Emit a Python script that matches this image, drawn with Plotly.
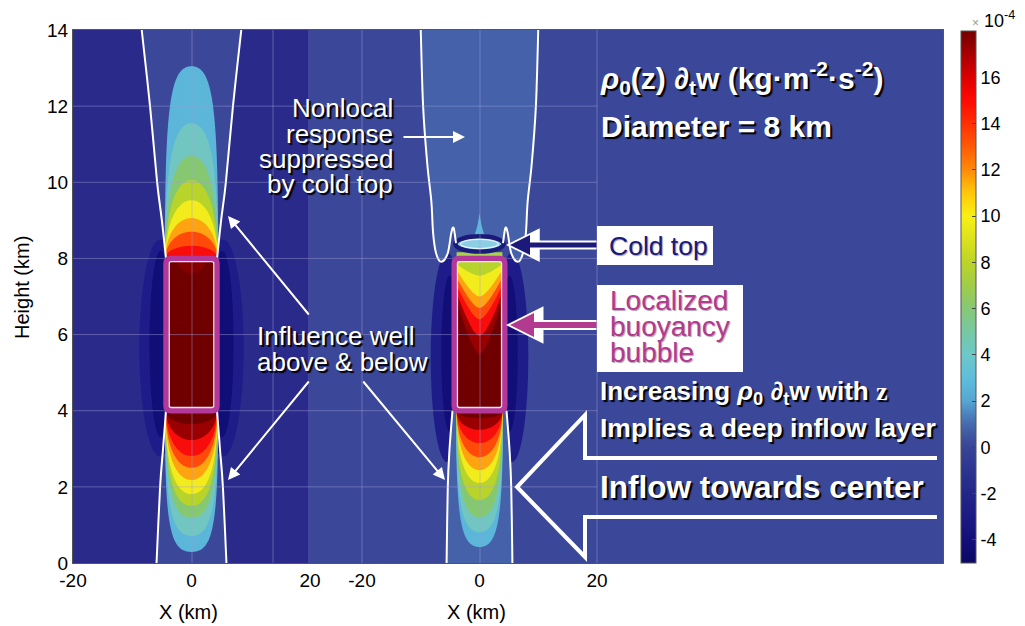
import plotly.graph_objects as go

W, H = 1025, 626
FONT = "Liberation Sans, Arial, Helvetica, sans-serif"

# ---------------- data ----------------
CBAR_MIN, CBAR_MAX = -5, 18
CBAR_TICKS = [-4, -2, 0, 2, 4, 6, 8, 10, 12, 14, 16]
CMAP_VALUES = [-5, -4, -3, -2, -1, 0, 0.5, 1, 1.5, 2, 3, 4, 5, 6, 7, 8, 9, 10, 11, 12, 13, 14, 15, 16, 17, 18]
CMAP_COLORS = ['#0b0866', '#130f78', '#1b1a84', '#232689', '#2c3490', '#394596', '#3f559f',
               '#476aae', '#4e86c0', '#56a6d2', '#5ebedc', '#6cc8c8', '#78c8a4', '#86c876',
               '#a0cc48', '#bcd428', '#dce21c', '#f8f014', '#ffc80a', '#ff8a08', '#ff5a06',
               '#ff3004', '#ff0a02', '#dc0000', '#a80000', '#740000']
X_TICKS = [-20, 0, 20]
Y_TICKS = [0, 2, 4, 6, 8, 10, 12, 14]
X_RANGE = [-20, 20]
Y_RANGE = [0, 14]

# fill colours of the contour bands, weakest (2..4) to strongest (>18)
BAND_COLORS = ['#5bb6da', '#72c6c2', '#86c872', '#b8d42a', '#f2ec1c', '#ffa410',
               '#ff4a0a', '#f80c0c', '#9a0000', '#700000']

BOX_X = [-4.3, 4.3]
BOX_Y = [4.0, 8.0]

# left panel (no cold top)
L_TIP_ABOVE = [13.05, 11.55, 10.7, 10.06, 9.53, 9.06, 8.7, 8.33]
L_HALFW_ABOVE = [4.5, 4.45, 4.4, 4.4, 4.4, 4.4, 4.4, 4.4]
L_K_ABOVE = [0.8, 0.7, 0.64, 0.6, 0.58, 0.56, 0.56, 0.56]
L_BUMP_IN_BOX = [7.62, 2.4]
L_TIP_BELOW = [0.29, 0.71, 1.18, 1.5, 1.81, 2.18, 2.5, 2.81, 3.23, 3.65]
L_HALFW_BELOW = [4.5, 4.45, 4.4, 4.4, 4.4, 4.4, 4.35, 4.3, 4.3, 4.3]
L_K_BELOW = [0.82, 0.76, 0.72, 0.68, 0.65, 0.62, 0.6, 0.58, 0.56, 0.56]
L_ZERO_UP_Y = [8, 9, 10, 12, 14]
L_ZERO_UP_X = [4.3, 5.0, 5.8, 7.0, 8.4]
L_ZERO_LO_Y = [4, 3, 2, 0]
L_ZERO_LO_X = [4.3, 4.8, 5.3, 5.9]
L_LOBE_OUTER = [5.3, 5.65, 3.5, 2.85]
L_LOBE_INNER = [5.2, 5.75, 1.9, 2.45]

# right panel (with cold top)
R_TIP_BELOW = [0.42, 0.81, 1.2, 1.65, 2.1, 2.44, 2.78, 3.15, 3.5, 3.8]
R_HALFW_BELOW = [4.0, 4.0, 3.95, 3.95, 3.9, 3.9, 3.9, 3.9, 3.9, 3.9]
R_K_BELOW = [0.8, 0.76, 0.7, 0.66, 0.62, 0.6, 0.58, 0.56, 0.56, 0.56]
R_BOX_WALL_Y = [6.9, 7.1, 7.3, 7.5, 7.7, 7.85]
R_BOX_TIP_Y = [5.5, 5.96, 6.4, 6.7, 7.0, 7.55]
R_BOX_BANDS = [8, 7, 6, 5, 4, 3]
R_UP_X = [-10.0, -9.6, -8.9, -8.2, -7.9, -7.4, -6.5, -5.4, -4.8, -4.4, -4.0]
R_UP_Y = [14, 12, 10.5, 9.5, 8.67, 8.14, 7.91, 8.14, 8.67, 8.8, 8.4]
R_ZERO_LO_Y = [4, 3, 2, 0]
R_ZERO_LO_X = [4.6, 5.1, 5.4, 5.6]
R_LOBE_OUTER = [5.5, 5.4, 2.8, 2.75]
R_LOBE_INNER = [5.1, 5.5, 1.4, 2.05]
COLD_TOP = [0.0, 8.38, 4.1, 0.2]
SPIKE = [8.45, 1.7, 9.2]

# ---------------- colours ----------------
LEFT_BG = '#2a2a8a'
NEUTRAL_BG = '#3b4798'
NONLOCAL_BG = '#4561a9'
LOBE_OUT = '#1e1c88'
LOBE_IN = '#110e78'
MAGENTA = '#b4379a'
NAVY = '#1c1a78'
GRID = 'rgba(160,160,215,0.45)'


def fx(p):
    return p / W


def fy(p):
    return 1 - p / H


def segs(pts):
    s = ''
    n = len(pts)
    for i in range(n - 1):
        p0 = pts[i - 1] if i > 0 else pts[i]
        p1, p2 = pts[i], pts[i + 1]
        p3 = pts[i + 2] if i + 2 < n else pts[i + 1]
        c1 = (p1[0] + (p2[0] - p0[0]) / 6, p1[1] + (p2[1] - p0[1]) / 6)
        c2 = (p2[0] - (p3[0] - p1[0]) / 6, p2[1] - (p3[1] - p1[1]) / 6)
        s += f' C {c1[0]:.3f},{c1[1]:.3f} {c2[0]:.3f},{c2[1]:.3f} {p2[0]:.3f},{p2[1]:.3f}'
    return s


def bullet(xc, yb, w, h, k):
    return (f'M {xc - w},{yb} C {xc - w},{yb + k * h} {xc - k * w},{yb + h} {xc},{yb + h} '
            f'C {xc + k * w},{yb + h} {xc + w},{yb + k * h} {xc + w},{yb} Z')


def ellipse(xc, yc, a, b):
    k = 0.5523
    return (f'M {xc - a},{yc} C {xc - a},{yc + k * b} {xc - k * a},{yc + b} {xc},{yc + b} '
            f'C {xc + k * a},{yc + b} {xc + a},{yc + k * b} {xc + a},{yc} '
            f'C {xc + a},{yc - k * b} {xc + k * a},{yc - b} {xc},{yc - b} '
            f'C {xc - k * a},{yc - b} {xc - a},{yc - k * b} {xc - a},{yc} Z')


def rrect(x0, x1, y0, y1, rx, ry):
    return (f'M {x0 + rx},{y0} L {x1 - rx},{y0} Q {x1},{y0} {x1},{y0 + ry} '
            f'L {x1},{y1 - ry} Q {x1},{y1} {x1 - rx},{y1} L {x0 + rx},{y1} '
            f'Q {x0},{y1} {x0},{y1 - ry} L {x0},{y0 + ry} Q {x0},{y0} {x0 + rx},{y0} Z')


fig = go.Figure()


def shp(path, xr, yr, fill=None, lc=None, lw=0):
    fig.add_shape(type='path', path=path, xref=xr, yref=yr, layer='above',
                  fillcolor=fill if fill else 'rgba(0,0,0,0)',
                  line=dict(color=lc if lc else 'rgba(0,0,0,0)', width=lw))


def rect(x0, x1, y0, y1, xr, yr, fill):
    fig.add_shape(type='rect', x0=x0, x1=x1, y0=y0, y1=y1, xref=xr, yref=yr,
                  layer='above', fillcolor=fill, line=dict(width=0))


def zone(xs, ys, xr, yr, fill):
    left = [(-x, y) for x, y in zip(xs, ys)]
    right = [(x, y) for x, y in zip(xs, ys)][::-1]
    p = f'M {left[0][0]},{left[0][1]}' + segs(left) + f' L {right[0][0]},{right[0][1]}' + segs(right) + ' Z'
    shp(p, xr, yr, fill=fill)


def zero_lines(xs, ys, xr, yr):
    for sgn in (-1, 1):
        pts = [(sgn * x, y) for x, y in zip(xs, ys)]
        shp(f'M {pts[0][0]},{pts[0][1]}' + segs(pts), xr, yr, lc='white', lw=2)


def box(xr, yr, kx):
    x0, x1 = BOX_X
    y0, y1 = BOX_Y
    shp(rrect(x0, x1, y0, y1, 5 / kx, 5 / 38.07), xr, yr, lc=MAGENTA, lw=5.5)
    dx, dy = 3.2 / kx, 3.2 / 38.07
    shp(rrect(x0 + dx, x1 - dx, y0 + dy, y1 - dy, 2 / kx, 2 / 38.07), xr, yr, lc='#f2e6f0', lw=1.3)


# ---------------- left panel ----------------
rect(X_RANGE[0], X_RANGE[1], Y_RANGE[0], Y_RANGE[1], 'x', 'y', LEFT_BG)
zone(L_ZERO_UP_X, L_ZERO_UP_Y, 'x', 'y', NEUTRAL_BG)
zone(L_ZERO_LO_X, L_ZERO_LO_Y, 'x', 'y', NEUTRAL_BG)
for lobe, col in ((L_LOBE_OUTER, LOBE_OUT), (L_LOBE_INNER, LOBE_IN)):
    for sgn in (-1, 1):
        shp(ellipse(sgn * lobe[0], lobe[1], lobe[2], lobe[3]), 'x', 'y', fill=col)
for i, tip in enumerate(L_TIP_ABOVE):
    shp(bullet(0, BOX_Y[1], L_HALFW_ABOVE[i], tip - BOX_Y[1], L_K_ABOVE[i]), 'x', 'y', fill=BAND_COLORS[i])
for i, tip in enumerate(L_TIP_BELOW):
    shp(bullet(0, BOX_Y[0], L_HALFW_BELOW[i], tip - BOX_Y[0], L_K_BELOW[i]), 'x', 'y', fill=BAND_COLORS[i])
rect(BOX_X[0], BOX_X[1], BOX_Y[0], BOX_Y[1], 'x', 'y', BAND_COLORS[9])
shp(bullet(0, BOX_Y[1], L_BUMP_IN_BOX[1], L_BUMP_IN_BOX[0] - BOX_Y[1], 0.6), 'x', 'y', fill='#860000')
zero_lines(L_ZERO_UP_X, L_ZERO_UP_Y, 'x', 'y')
zero_lines(L_ZERO_LO_X, L_ZERO_LO_Y, 'x', 'y')

# ---------------- right panel ----------------
RK = 5.875
R_XR = [X_RANGE[0] - 52 / RK, X_RANGE[0] - 52 / RK + 633 / RK]
rect(R_XR[0], R_XR[1], Y_RANGE[0], Y_RANGE[1], 'x2', 'y2', NEUTRAL_BG)
for lobe, col in ((R_LOBE_OUTER, LOBE_OUT), (R_LOBE_INNER, LOBE_IN)):
    for sgn in (-1, 1):
        shp(ellipse(sgn * lobe[0], lobe[1], lobe[2], lobe[3]), 'x2', 'y2', fill=col)
lh = [(x, y) for x, y in zip(R_UP_X, R_UP_Y)]
rh = [(-x, y) for x, y in zip(R_UP_X, R_UP_Y)][::-1]
shp(f'M {lh[0][0]},{lh[0][1]}' + segs(lh) + f' L {rh[0][0]},{rh[0][1]}' + segs(rh) + ' Z', 'x2', 'y2', fill=NONLOCAL_BG)
zone(R_ZERO_LO_X, R_ZERO_LO_Y, 'x2', 'y2', NONLOCAL_BG)
for i, tip in enumerate(R_TIP_BELOW):
    shp(bullet(0, BOX_Y[0], R_HALFW_BELOW[i], tip - BOX_Y[0], R_K_BELOW[i]), 'x2', 'y2', fill=BAND_COLORS[i])
# spike above the cold top
b0, hw, tp = SPIKE
shp(f'M {-hw},{b0} Q {-0.3 * hw},{b0 + 0.1} 0,{tp} Q {0.3 * hw},{b0 + 0.1} {hw},{b0} Z', 'x2', 'y2', fill=BAND_COLORS[0])
# bubble interior
rect(BOX_X[0], BOX_X[1], BOX_Y[0], BOX_Y[1], 'x2', 'y2', BAND_COLORS[9])
wi = BOX_X[1] - 0.4
for wall, tip, band in zip(R_BOX_WALL_Y, R_BOX_TIP_Y, R_BOX_BANDS):
    top = BOX_Y[1]
    p = (f'M {-wi},{top} L {-wi},{wall} Q {-0.3 * wi},{tip} 0,{tip} '
         f'Q {0.3 * wi},{tip} {wi},{wall} L {wi},{top} Z')
    shp(p, 'x2', 'y2', fill=BAND_COLORS[band])
rect(-3.9, 3.9, BOX_Y[1], BOX_Y[1] + 0.16, 'x2', 'y2', '#a6d24a')
# cold top ring
cx, cy, ca, cb = COLD_TOP
shp(ellipse(cx, cy, ca, cb), 'x2', 'y2', fill='#8ccfe4', lc=NAVY, lw=4.5)
shp(ellipse(cx, cy, ca - 0.9, cb - 0.08), 'x2', 'y2', lc='#e8f4fa', lw=1.2)
# zero lines
shp(f'M {lh[0][0]},{lh[0][1]}' + segs(lh), 'x2', 'y2', lc='white', lw=2)
shp(f'M {rh[0][0]},{rh[0][1]}' + segs(rh), 'x2', 'y2', lc='white', lw=2)
zero_lines(R_ZERO_LO_X, R_ZERO_LO_Y, 'x2', 'y2')

# ---------------- grid ----------------
for yv in Y_TICKS[1:-1]:
    fig.add_shape(type='line', xref='paper', yref='y', x0=fx(73), x1=fx(597), y0=yv, y1=yv,
                  line=dict(color=GRID, width=1), layer='above')
for xp in (192, 273, 309, 362, 480, 597):
    fig.add_shape(type='line', xref='paper', yref='paper', x0=fx(xp), x1=fx(xp), y0=fy(563), y1=fy(30),
                  line=dict(color=GRID, width=1), layer='above')

box('x', 'y', 5.925)
box('x2', 'y2', RK)

# ---------------- annotation furniture ----------------
fig.add_shape(type='rect', xref='paper', yref='paper', x0=fx(597), x1=fx(713), y0=fy(265), y1=fy(226),
              fillcolor='white', line=dict(width=0), layer='above')
fig.add_shape(type='rect', xref='paper', yref='paper', x0=fx(597), x1=fx(743), y0=fy(372), y1=fy(285),
              fillcolor='white', line=dict(width=0), layer='above')
arrow_pts = [(937, 458), (585, 458), (585, 415), (517, 487), (585, 557), (585, 517), (937, 517)]
fig.add_shape(type='path', xref='paper', yref='paper', layer='above',
              path='M ' + ' L '.join(f'{fx(a):.5f},{fy(b):.5f}' for a, b in arrow_pts),
              line=dict(color='white', width=4), fillcolor='rgba(0,0,0,0)')

SHADOW = '2px 2px 1px #000'
anns = []


def txt(s, x, base, size, color='white', bold=False, xanchor='left', shadow=SHADOW):
    anns.append(dict(text=s, x=fx(x), y=fy(base - 0.33 * size), xref='paper', yref='paper',
                     xanchor=xanchor, yanchor='middle', showarrow=False,
                     font=dict(family=FONT, size=size, color=color, weight='bold' if bold else 'normal',
                               shadow=shadow)))


def arr(tail, tip, color, width, head=2, size=1.2):
    anns.append(dict(text='', x=fx(tip[0]), y=fy(tip[1]), xref='paper', yref='paper',
                     ax=tail[0] - tip[0], ay=tail[1] - tip[1], showarrow=True,
                     arrowhead=head, arrowsize=size, arrowwidth=width, arrowcolor=color, standoff=0))


for s, b in (('Nonlocal', 117), ('response', 143), ('suppressed', 168), ('by cold top', 193)):
    txt(s, 395, b, 26, xanchor='right')
txt('Influence well', 255, 345, 26)
txt('above &amp; below', 255, 371, 26)
txt('<i>ρ</i><sub>0</sub>(z) ∂<sub>t</sub>w (kg·m<sup>-2</sup>·s<sup>-2</sup>)', 598, 88, 30, bold=True)
txt('Diameter = 8 km', 599, 136, 30, bold=True)
txt('Cold top', 607, 255, 26.5, color=NAVY, shadow='1px 1px 1px #9a9ab0')
for s, b in (('Localized', 310), ('buoyancy', 336), ('bubble', 362)):
    txt(s, 608, b, 28, color='#b23a8f', shadow='1px 1px 1px #b0a0b0')
txt('Increasing <i>ρ</i><sub>0</sub> ∂<sub>t</sub>w with <span style="font-family:Liberation Serif">z</span>',
    598, 401, 26, bold=True)
txt('Implies a deep inflow layer', 598, 437, 26.5, bold=True)
txt('Inflow towards center', 598, 497, 31.5, bold=True)

arr((402, 137), (465, 137), 'white', 2)
arr((310, 316), (228, 216), 'white', 2)
arr((310, 380), (228, 480), 'white', 2)
arr((362, 380), (445, 480), 'white', 2)
arr((598, 245), (506, 245), 'white', 9, size=0.75)
arr((598, 245), (510, 245), NAVY, 5, size=0.8)
arr((598, 325), (506, 325), 'white', 10, size=0.75)
arr((598, 325), (510, 325), '#b23a8f', 6, size=0.8)

# axis titles & colorbar exponent
anns.append(dict(text='Height (km)', x=fx(22), y=fy(288), xref='paper', yref='paper', textangle=-90,
                 xanchor='center', yanchor='middle', showarrow=False,
                 font=dict(family=FONT, size=20, color='black')))
for xp in (188, 476):
    anns.append(dict(text='X (km)', x=fx(xp), y=fy(612), xref='paper', yref='paper', showarrow=False,
                     xanchor='center', yanchor='middle', font=dict(family=FONT, size=20, color='black')))
anns.append(dict(text='<span style="font-size:12px;color:#999">×</span> 10<sup>-4</sup>', x=fx(970), y=fy(19),
                 xref='paper', yref='paper', xanchor='left', yanchor='middle', showarrow=False,
                 font=dict(family=FONT, size=18, color='black')))

# colour bar (invisible carrier trace)
span = CBAR_MAX - CBAR_MIN
cscale = [[(v - CBAR_MIN) / span, c] for v, c in zip(CMAP_VALUES, CMAP_COLORS)]
fig.add_trace(go.Scatter(x=[0, 0], y=[-50, -50], mode='markers', hoverinfo='skip', showlegend=False,
                         marker=dict(size=1, opacity=0, color=[CBAR_MIN, CBAR_MAX], colorscale=cscale,
                                     cmin=CBAR_MIN, cmax=CBAR_MAX, showscale=True,
                                     colorbar=dict(x=fx(961), xanchor='left', y=fy(31), yanchor='top',
                                                   len=(563 - 31) / H, lenmode='fraction', thickness=15,
                                                   xpad=0, ypad=0, outlinewidth=1, outlinecolor='#555',
                                                   tickvals=CBAR_TICKS, ticktext=[str(v) for v in CBAR_TICKS],
                                                   ticks='inside', ticklen=4, tickcolor='#444',
                                                   tickfont=dict(family=FONT, size=18, color='black')))))

axis_common = dict(showgrid=False, zeroline=False, showline=True, linecolor='#555', linewidth=1,
                   ticks='inside', ticklen=5, tickcolor='#333', automargin=False,
                   tickfont=dict(family=FONT, size=19, color='black'))
fig.update_layout(
    width=W, height=H, margin=dict(l=0, r=0, t=0, b=0, autoexpand=False),
    paper_bgcolor='white', plot_bgcolor='rgba(0,0,0,0)', showlegend=False,
    xaxis=dict(domain=[fx(73), fx(310)], range=X_RANGE, tickvals=X_TICKS, ticktext=[str(v) for v in X_TICKS],
               mirror='ticks', anchor='y', **axis_common),
    yaxis=dict(domain=[fy(563), fy(30)], range=Y_RANGE, tickvals=Y_TICKS, ticktext=[str(v) for v in Y_TICKS],
               anchor='x', **axis_common),
    xaxis2=dict(domain=[fx(310), fx(943)], range=R_XR, tickvals=X_TICKS, ticktext=[str(v) for v in X_TICKS],
                mirror='ticks', anchor='y2', **axis_common),
    yaxis2=dict(domain=[fy(563), fy(30)], range=Y_RANGE, tickvals=Y_TICKS, anchor='x2', side='right',
                showticklabels=False, **axis_common),
    annotations=anns,
)

fig.write_html('out.html')
